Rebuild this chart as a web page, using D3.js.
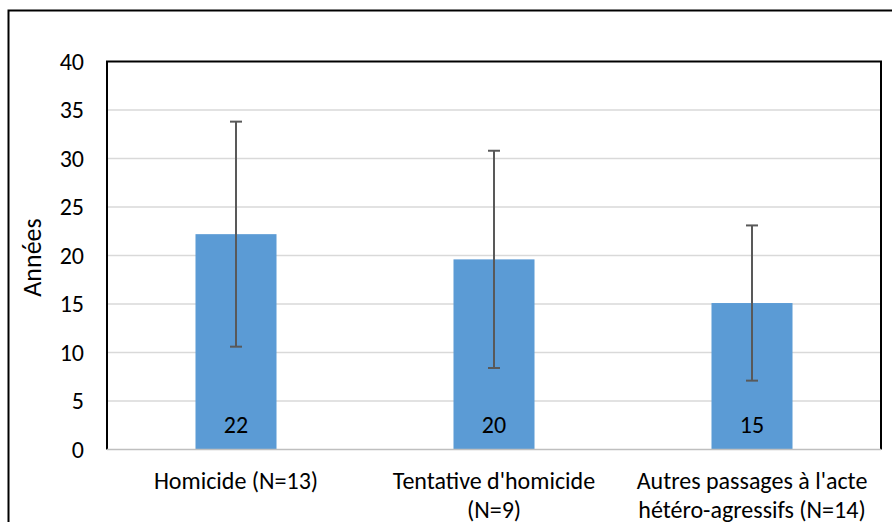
<!DOCTYPE html>
<html><head><meta charset="utf-8">
<script src="https://cdn.jsdelivr.net/npm/d3@7/dist/d3.min.js"></script>
<style>body{margin:0;background:#fff;} text{font-family:Carlito,"Open Sans",sans-serif;fill:#000;}</style>
</head><body><svg id="c" width="892" height="522"></svg>
<script>
const categories = [["Homicide (N=13)"], ["Tentative d'homicide", "(N=9)"], ["Autres passages à l'acte", "hétéro-agressifs (N=14)"]];
const means = [22.2, 19.6, 15.1];
const sds = [11.6, 11.2, 8.0];
const labels = ["22", "20", "15"];
const yTicks = [0, 5, 10, 15, 20, 25, 30, 35, 40];
const yTitle = "Années";

const svg = d3.select("#c");
const L = 107, R = 881, T = 61.5, B = 449.5;
svg.append("rect").attr("x", 8.5).attr("y", 10.5).attr("width", 900).attr("height", 600).attr("fill", "none").attr("stroke", "#000").attr("stroke-width", 2);

const x = d3.scaleBand().domain(d3.range(categories.length)).range([L, R]).paddingInner(0.686).paddingOuter(0.343);
const y = d3.scaleLinear().domain([0, 40]).range([B, T]);

svg.append("g").selectAll("line").data(yTicks.filter(d => d > 0 && d < 40)).join("line")
  .attr("x1", L).attr("x2", R).attr("y1", d => y(d)).attr("y2", d => y(d))
  .attr("stroke", "#d9d9d9").attr("stroke-width", 1.5);

const yAxis = svg.append("g").attr("transform", `translate(${L},0)`).call(d3.axisLeft(y).tickValues(yTicks).tickSize(0).tickPadding(23));
yAxis.select(".domain").remove();
yAxis.selectAll("text").attr("font-size", 24).attr("font-family", "Carlito, 'Open Sans', sans-serif");

svg.append("g").selectAll("rect").data(means).join("rect")
  .attr("x", (d, i) => x(i)).attr("width", x.bandwidth())
  .attr("y", d => y(d)).attr("height", d => B - y(d)).attr("fill", "#5b9bd5");

const eb = svg.append("g").attr("stroke", "#595959").attr("stroke-width", 2);
means.forEach((m, i) => {
  const cx = x(i) + x.bandwidth() / 2;
  eb.append("line").attr("x1", cx).attr("x2", cx).attr("y1", y(m + sds[i])).attr("y2", y(m - sds[i]));
  [m + sds[i], m - sds[i]].forEach(v => eb.append("line").attr("x1", cx - 6).attr("x2", cx + 6).attr("y1", y(v)).attr("y2", y(v)));
});

svg.append("g").selectAll("text").data(labels).join("text")
  .attr("x", (d, i) => x(i) + x.bandwidth() / 2).attr("y", B - 25).attr("dy", "0.35em")
  .attr("text-anchor", "middle").attr("font-size", 24).text(d => d);

// plot border
svg.append("path").attr("d", `M${L},${B}V${T}H${R}V${B}`).attr("fill", "none").attr("stroke", "#000").attr("stroke-width", 2);
svg.append("line").attr("x1", L).attr("x2", R).attr("y1", B).attr("y2", B).attr("stroke", "#bfbfbf").attr("stroke-width", 1.5);

const xl = svg.append("g");
categories.forEach((lines, i) => {
  const t = xl.append("text").attr("text-anchor", "middle").attr("font-size", 24);
  lines.forEach((s, j) => t.append("tspan").attr("x", x(i) + x.bandwidth() / 2).attr("y", 489 + j * 28.5).text(s));
});

svg.append("text").attr("transform", `translate(41,${(T + B) / 2 + 2}) rotate(-90)`).attr("text-anchor", "middle")
  .attr("font-size", 26).text(yTitle);
</script></body></html>
